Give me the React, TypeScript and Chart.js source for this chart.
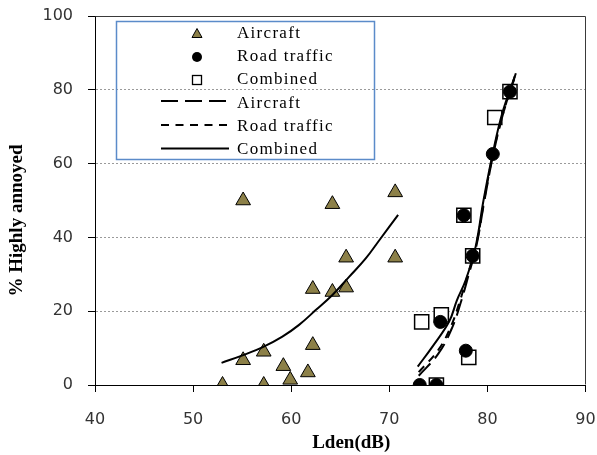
import React, { useEffect, useRef } from 'react';
import { Chart, registerables } from 'chart.js';

Chart.register(...registerables);

// ---- Data ----
const aircraftX = [55.1, 64.2, 70.6, 65.6, 70.6, 62.2, 64.2, 65.6, 62.2, 55.1, 57.2, 59.2, 61.7, 59.9, 53.0, 57.2];
const aircraftY = [50.0, 49.0, 52.2, 34.5, 34.5, 26.0, 25.2, 26.4, 10.8, 6.7, 9.0, 5.1, 3.4, 1.4, 0, 0];

const roadX = [73.1, 74.8, 75.2, 77.8, 77.6, 78.5, 80.55, 82.3];
const roadY = [0, 0, 17.1, 9.3, 46.0, 35.0, 62.6, 79.5];

const combinedX = [73.3, 74.8, 75.3, 78.1, 77.6, 78.5, 80.75, 82.3];
const combinedY = [17.1, 0, 19.0, 7.5, 46.0, 35.0, 72.5, 79.5];

// fitted curves
const fitLeftX = [52.9, 55.1, 57.2, 59.1, 60.8, 62.5, 64.2, 65.9, 67.6, 69.0, 70.9];
const fitLeftY = [6.0, 8.1, 10.4, 13.1, 16.3, 20.3, 24.4, 29.3, 34.3, 39.3, 46.1];

const fitCombinedX = [72.9, 74.4, 76.1, 76.9, 77.8, 78.8, 79.6, 80.55, 81.5, 82.8];
const fitCombinedY = [5.0, 10.4, 17.2, 23.0, 28.5, 37.5, 50.0, 62.8, 73.5, 83.7];

const fitAircraftRX = [73.0, 75.0, 76.4, 77.3, 78.0, 78.9, 79.7, 80.6, 81.6, 82.9];
const fitAircraftRY = [2.5, 8.5, 15.5, 22.5, 29.0, 38.0, 50.0, 62.5, 73.5, 84.5];

const fitRoadX = [73.0, 75.0, 76.3, 77.2, 77.9, 78.9, 79.7, 80.6, 81.6, 82.8];
const fitRoadY = [3.5, 9.5, 16.0, 22.8, 29.0, 38.5, 50.5, 63.0, 73.5, 83.5];

const xTicks = [40, 50, 60, 70, 80, 90];
const yTicks = [0, 20, 40, 60, 80, 100];

const xTitle = 'Lden(dB)';
const yTitle = '% Highly annoyed';

const legendLabels = ['Aircraft', 'Road traffic', 'Combined', 'Aircraft', 'Road traffic', 'Combined'];

const zip = (xs: number[], ys: number[]) => xs.map((x, i) => ({ x, y: ys[i] }));

const OLIVE = '#8C8048';

const decorPlugin = {
  id: 'decor',
  afterDatasetsDraw(chart: any) {
    const { ctx, chartArea: a } = chart;
    ctx.save();
    ctx.strokeStyle = '#3a3a3a';
    ctx.lineWidth = 1;
    const l = Math.round(a.left) + 0.5;
    const t = Math.round(a.top) + 0.5;
    const r = Math.round(a.right) - 0.5;
    const b = Math.round(a.bottom) - 0.5;
    ctx.beginPath();
    ctx.moveTo(l, t);
    ctx.lineTo(r, t);
    ctx.lineTo(r, b);
    ctx.stroke();
    ctx.restore();
  },
  afterDraw(chart: any) {
    const { ctx, chartArea: a } = chart;
    ctx.save();
    // axis titles
    ctx.fillStyle = '#000';
    ctx.font = 'bold 19px "Liberation Serif", "Times New Roman", serif';
    ctx.textAlign = 'center';
    ctx.textBaseline = 'middle';
    ctx.fillText(xTitle, a.left + (a.right - a.left) / 2 + 11, 443);
    ctx.save();
    ctx.translate(17, a.top + (a.bottom - a.top) / 2 + 20);
    ctx.rotate(-Math.PI / 2);
    ctx.fillText(yTitle, 0, 0);
    ctx.restore();

    // legend box
    ctx.strokeStyle = '#5B8BC9';
    ctx.lineWidth = 1.5;
    ctx.strokeRect(116.5, 21.5, 258, 138);

    const mx = 197;
    const textX = 237;
    const rows = [33.5, 57, 80, 103.5, 127, 150];
    ctx.font = '17px "Liberation Serif", "Times New Roman", serif';
    (ctx as any).letterSpacing = '1.3px';
    ctx.textAlign = 'left';
    ctx.textBaseline = 'middle';
    ctx.fillStyle = '#000';
    legendLabels.forEach((lab, i) => ctx.fillText(lab, textX, rows[i]));
    (ctx as any).letterSpacing = '0px';

    // marker samples
    ctx.lineWidth = 1;
    ctx.strokeStyle = '#000';
    ctx.beginPath();
    ctx.moveTo(mx, rows[0] - 5);
    ctx.lineTo(mx + 5, rows[0] + 4);
    ctx.lineTo(mx - 5, rows[0] + 4);
    ctx.closePath();
    ctx.fillStyle = OLIVE;
    ctx.fill();
    ctx.stroke();
    ctx.beginPath();
    ctx.arc(mx, rows[1], 5, 0, Math.PI * 2);
    ctx.fillStyle = '#000';
    ctx.fill();
    ctx.fillStyle = '#fff';
    ctx.lineWidth = 1.3;
    ctx.fillRect(mx - 4.5, rows[2] - 4.5, 9, 9);
    ctx.strokeRect(mx - 4.5, rows[2] - 4.5, 9, 9);
    const dashes = [[17, 7], [8, 6.5], []];
    ctx.lineWidth = 2;
    [101, 125, 148.5].forEach((y, i) => {
      ctx.setLineDash(dashes[i]);
      ctx.beginPath();
      ctx.moveTo(161, y);
      ctx.lineTo(229, y);
      ctx.stroke();
    });
    ctx.setLineDash([]);
    ctx.restore();
  },
};

export default function App() {
  const ref = useRef<HTMLCanvasElement | null>(null);

  useEffect(() => {
    if (!ref.current) return;
    const lineBase = {
      showLine: true,
      pointRadius: 0,
      pointHoverRadius: 0,
      borderColor: '#000',
      borderWidth: 2,
      tension: 0.4,
      fill: false,
      order: 0,
    };
    const chart = new Chart(ref.current, {
      type: 'scatter',
      data: {
        datasets: [
          {
            label: 'Aircraft',
            data: zip(aircraftX, aircraftY),
            pointStyle: 'triangle',
            pointRadius: 8.5,
            backgroundColor: OLIVE,
            borderColor: '#000',
            borderWidth: 1,
            order: 3,
          },
          {
            label: 'Combined',
            data: zip(combinedX, combinedY),
            pointStyle: 'rect',
            pointRadius: 10,
            backgroundColor: '#fff',
            borderColor: '#000',
            borderWidth: 1.5,
            order: 2,
          },
          {
            label: 'Road traffic',
            data: zip(roadX, roadY),
            pointStyle: 'circle',
            pointRadius: 6.5,
            backgroundColor: '#000',
            borderColor: '#000',
            borderWidth: 1,
            order: 1,
          },
          { ...lineBase, label: 'Aircraft fit', data: zip(fitLeftX, fitLeftY) },
          { ...lineBase, label: 'Aircraft fit (combined range)', data: zip(fitAircraftRX, fitAircraftRY), borderDash: [17, 7] },
          { ...lineBase, label: 'Road traffic fit', data: zip(fitRoadX, fitRoadY), borderDash: [8, 6.5] },
          { ...lineBase, label: 'Combined fit', data: zip(fitCombinedX, fitCombinedY) },
        ] as any,
      },
      options: {
        animation: false,
        responsive: false,
        devicePixelRatio: 1,
        layout: { padding: { top: 16, right: 10, left: 0, bottom: 0 } },
        plugins: {
          legend: { display: false },
          tooltip: { enabled: false },
        },
        scales: {
          x: {
            type: 'linear',
            min: 40,
            max: 90,
            afterBuildTicks: (s: any) => {
              s.ticks = xTicks.map((v) => ({ value: v }));
            },
            afterFit: (s: any) => {
              s.height = 70;
              s.paddingLeft = 0;
              s.paddingRight = 0;
            },
            ticks: {
              color: '#333',
              font: { family: '"DejaVu Sans", sans-serif', size: 16 },
              padding: 18,
              maxRotation: 0,
            },
            grid: {
              drawOnChartArea: false,
              tickLength: 7,
              tickColor: '#000',
            },
            border: { color: '#000', width: 1 },
          },
          y: {
            type: 'linear',
            min: 0,
            max: 100,
            afterBuildTicks: (s: any) => {
              s.ticks = yTicks.map((v) => ({ value: v }));
            },
            afterFit: (s: any) => {
              s.width = 95;
              s.paddingTop = 0;
              s.paddingBottom = 0;
            },
            ticks: {
              color: '#333',
              font: { family: '"DejaVu Sans", sans-serif', size: 16 },
              padding: 15,
            },
            grid: {
              color: (c: any) =>
                c.tick && (c.tick.value === 0 || c.tick.value === 100) ? 'rgba(0,0,0,0)' : '#9a9a9a',
              lineWidth: 1,
              tickLength: 7,
              tickColor: '#000',
            },
            border: { color: '#000', width: 1, dash: [2, 2] },
          },
        },
      },
      plugins: [decorPlugin],
    } as any);
    return () => chart.destroy();
  }, []);

  return (
    <div style={{ position: 'absolute', left: 0, top: 0, width: 597, height: 455, background: '#fff' }}>
      <canvas ref={ref} width={597} height={455} style={{ width: 597, height: 455, display: 'block' }} />
    </div>
  );
}
